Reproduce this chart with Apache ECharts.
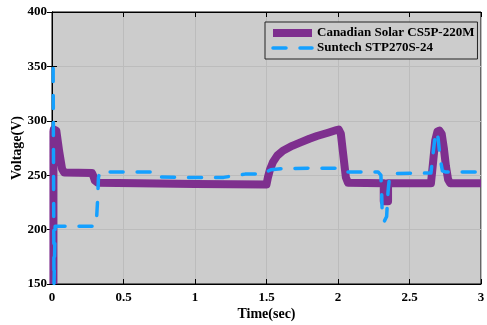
<!DOCTYPE html>
<html>
<head>
<meta charset="utf-8">
<script src="https://cdn.jsdelivr.net/npm/echarts@6/dist/echarts.min.js"></script>
<style>
  html, body { margin: 0; padding: 0; background: #ffffff; }
  #chart { width: 487px; height: 325px; }
</style>
</head>
<body>
<div id="chart"></div>
<script>
// Time axis ticks (sec) and voltage axis ticks (V)
const timeTicks = [0, 0.5, 1, 1.5, 2, 2.5, 3];
const voltTicks = [150, 200, 250, 300, 350, 400];

// Canadian Solar CS5P-220M output voltage
const csTime = [0.01, 0.01, 0.012, 0.03, 0.05, 0.07, 0.085, 0.28, 0.29, 0.30, 0.32, 0.6, 1.0, 1.5,
  1.51, 1.524, 1.545, 1.575, 1.615, 1.68, 1.734, 1.8, 1.853, 1.93, 1.99, 2.005, 2.02, 2.04, 2.055, 2.07,
  2.32, 2.32, 2.35, 2.35, 2.65, 2.665, 2.68, 2.695, 2.71, 2.725, 2.74, 2.755, 2.77, 2.785, 3.0];
const csVolt = [150, 290, 292, 291, 272, 256, 252.5, 252, 249, 245, 243, 242.5, 242, 241.5,
  248, 255, 262, 268, 272.5, 277, 280, 283.5, 286, 289, 291.5, 292, 288, 265, 248, 243,
  242.5, 226, 226, 242.5, 242.5, 262, 282, 290, 291, 288, 275, 258, 246, 242.5, 242.5];

// Suntech STP270S-24 output voltage
const stTime = [0.008, 0.014, 0.022, 0.3, 0.31, 0.318, 0.325, 0.335, 0.7, 0.71, 0.73, 0.9, 1.2,
  1.35, 1.48, 1.5, 1.53, 1.6, 1.8, 2.0, 2.03, 2.05, 2.1, 2.28, 2.3, 2.305, 2.31, 2.325, 2.34,
  2.35, 2.36, 2.38, 2.65, 2.665, 2.68, 2.69, 2.7, 2.715, 2.73, 2.75, 3.0];
const stVolt = [348, 150, 203, 203, 206, 225, 248, 253, 253, 250, 248.5, 248, 248,
  251, 251, 253, 255, 256, 256.5, 256.5, 254, 253, 253, 253, 250, 235, 210, 208, 212,
  235, 248, 251.5, 252, 270, 287, 290, 284, 265, 254, 253, 253];

const seriesNames = ['Canadian Solar CS5P-220M', 'Suntech STP270S-24'];

const zip = (xs, ys) => xs.map((x, i) => [x, ys[i]]);

const font = 'Liberation Serif, Times New Roman, serif';
const tAxisMin = timeTicks[0], tAxisMax = timeTicks[timeTicks.length - 1];
const vAxisMin = voltTicks[0], vAxisMax = voltTicks[voltTicks.length - 1];
const tStep = timeTicks[1] - timeTicks[0];
const vStep = voltTicks[1] - voltTicks[0];

const tickStyle = { show: true, inside: true, length: 5, lineStyle: { color: '#000', width: 1 } };
const lineAxis = { show: true, lineStyle: { color: '#000', width: 1 } };
const labelStyle = { color: '#000', fontFamily: font, fontWeight: 'bold', fontSize: 13 };

const chart = echarts.init(document.getElementById('chart'), null, { renderer: 'canvas' });
chart.setOption({
  animation: false,
  backgroundColor: '#ffffff',
  grid: {
    left: 52, right: 6, top: 12, bottom: 41,
    outerBoundsMode: 'none',
    containLabel: false,
    show: true, backgroundColor: '#cccccc', borderColor: '#000', borderWidth: 1
  },
  legend: {
    orient: 'vertical',
    left: 265, top: 22,
    padding: [4, 3, 4, 4],
    itemGap: 1,
    itemWidth: 39, itemHeight: 8,
    backgroundColor: '#cccccc',
    borderColor: '#222', borderWidth: 1,
    itemStyle: { opacity: 0 },
    lineStyle: { width: 'inherit', type: 'inherit', cap: 'inherit' },
    textStyle: { color: '#000', fontFamily: font, fontWeight: 'bold', fontSize: 13, lineHeight: 14 },
    data: seriesNames
  },
  xAxis: [{
    type: 'value', position: 'bottom',
    min: tAxisMin, max: tAxisMax, interval: tStep,
    name: 'Time(sec)', nameLocation: 'middle', nameGap: 23,
    nameMoveOverlap: false,
    nameTextStyle: { color: '#000', fontFamily: font, fontWeight: 'bold', fontSize: 14 },
    axisLine: lineAxis, axisTick: tickStyle,
    axisLabel: Object.assign({ margin: 7 }, labelStyle),
    splitLine: { show: true, lineStyle: { color: '#bcbcbc', width: 1 } }
  }, {
    type: 'value', position: 'top',
    min: tAxisMin, max: tAxisMax, interval: tStep,
    axisLine: lineAxis, axisTick: tickStyle,
    axisLabel: { show: false }, splitLine: { show: false }
  }],
  yAxis: [{
    type: 'value', position: 'left',
    min: vAxisMin, max: vAxisMax, interval: vStep,
    name: 'Voltage(V)', nameLocation: 'middle', nameGap: 28,
    nameMoveOverlap: false,
    nameTextStyle: { color: '#000', fontFamily: font, fontWeight: 'bold', fontSize: 14 },
    axisLine: lineAxis, axisTick: tickStyle,
    axisLabel: Object.assign({ margin: 5 }, labelStyle),
    splitLine: { show: true, lineStyle: { color: '#bcbcbc', width: 1 } }
  }, {
    type: 'value', position: 'right',
    min: vAxisMin, max: vAxisMax, interval: vStep,
    axisLine: lineAxis, axisTick: tickStyle,
    axisLabel: { show: false }, splitLine: { show: false }
  }],
  series: [{
    name: seriesNames[0],
    type: 'line',
    xAxisIndex: 0, yAxisIndex: 0,
    symbol: 'none',
    clip: true,
    data: zip(csTime, csVolt),
    itemStyle: { color: '#7e2f8e' },
    lineStyle: { color: '#7e2f8e', width: 8, join: 'round', cap: 'butt' }
  }, {
    name: seriesNames[1],
    type: 'line',
    xAxisIndex: 0, yAxisIndex: 0,
    symbol: 'none',
    clip: true,
    data: zip(stTime, stVolt),
    itemStyle: { color: '#14a0ff' },
    lineStyle: { color: '#14a0ff', width: 3.5, type: [13, 14], cap: 'round', join: 'round' }
  }]
});
</script>
</body>
</html>
